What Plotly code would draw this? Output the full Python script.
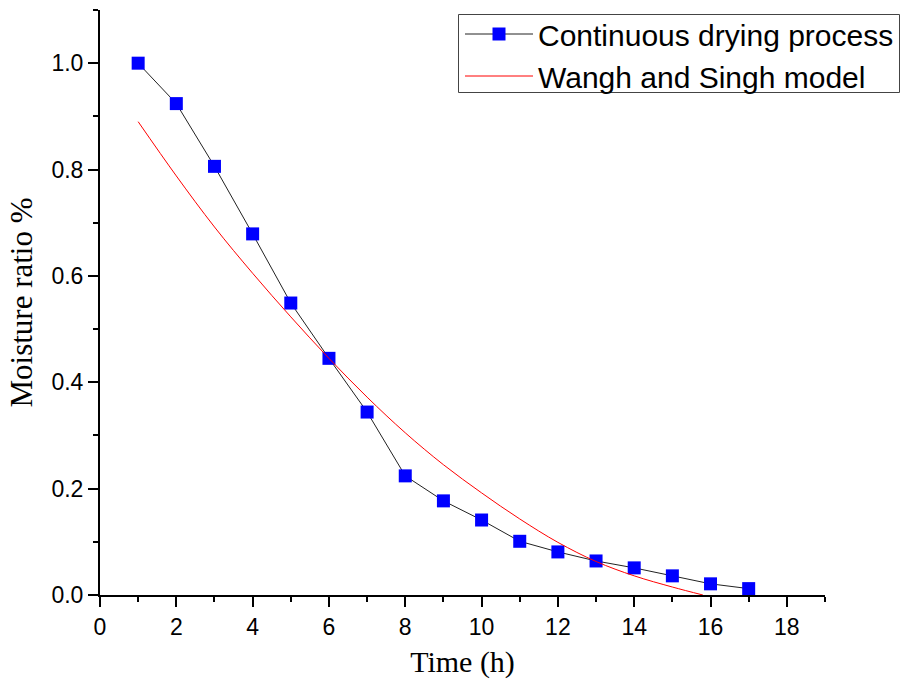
import plotly.graph_objects as go

time_h = [1, 2, 3, 4, 5, 6, 7, 8, 9, 10, 11, 12, 13, 14, 15, 16, 17]
moisture = [1.0, 0.924, 0.806, 0.679, 0.549, 0.445, 0.344, 0.224, 0.177, 0.141,
            0.101, 0.081, 0.064, 0.051, 0.036, 0.021, 0.012]

model_t = [1, 2, 3, 4, 5, 6, 7, 8, 9, 10, 11, 12, 13, 14, 15, 15.8]
model_mr = [0.890, 0.788, 0.692, 0.605, 0.523, 0.445, 0.372, 0.305, 0.245, 0.192,
            0.143, 0.099, 0.063, 0.036, 0.015, 0.0]

x_ticks = [0, 2, 4, 6, 8, 10, 12, 14, 16, 18]
y_ticks = [0.0, 0.2, 0.4, 0.6, 0.8, 1.0]

sans = "Liberation Sans, Arial, sans-serif"
serif = "Liberation Serif, Times New Roman, serif"

W, H = 901, 686

fig = go.Figure()
fig.add_trace(go.Scatter(
    x=time_h, y=moisture, mode="lines+markers", name="Continuous drying process",
    line=dict(color="#222222", width=1),
    marker=dict(symbol="square", size=13, color="#0000ff", line=dict(width=0)),
))
fig.add_trace(go.Scatter(
    x=model_t, y=model_mr, mode="lines", name="Wangh and Singh model",
    line=dict(color="#ff0000", width=1, shape="spline"),
))

axis_common = dict(
    showline=True, linecolor="black", linewidth=2, mirror=False,
    ticks="outside", ticklen=10, tickwidth=2, tickcolor="black",
    showgrid=False, zeroline=False,
    tickfont=dict(family=sans, size=23, color="black"),
)

fig.update_xaxes(
    range=[0, 19], tickvals=x_ticks, ticktext=[str(v) for v in x_ticks],
    minor=dict(dtick=1, ticks="outside", ticklen=5, tickwidth=2, tickcolor="black"),
    title=dict(text="Time (h)", font=dict(family=serif, size=30, color="black"), standoff=12),
    **axis_common,
)
fig.update_yaxes(
    range=[0, 1.1], tickvals=y_ticks, ticktext=[f"{v:.1f}" for v in y_ticks],
    minor=dict(dtick=0.1, ticks="outside", ticklen=5, tickwidth=2, tickcolor="black"),
    title=dict(text="Moisture ratio %", font=dict(family=serif, size=31, color="black"), standoff=10),
    **axis_common,
)

# legend frame drawn in paper coordinates (plot area: 100..825 x, 10..595 y)
plot_l, plot_r, plot_t, plot_b = 100, 825, 10, 595
def px_to_paper_x(px):
    return (px - plot_l) / (plot_r - plot_l)
def px_to_paper_y(py):
    return (plot_b - py) / (plot_b - plot_t)

fig.add_shape(
    type="rect", xref="paper", yref="paper",
    x0=px_to_paper_x(458.5), x1=px_to_paper_x(899.5),
    y0=px_to_paper_y(92.5), y1=px_to_paper_y(14.5),
    line=dict(color="#444444", width=1), fillcolor="white", layer="above",
)

fig.update_layout(
    width=W, height=H,
    margin=dict(l=100, r=76, t=10, b=91, autoexpand=False),
    paper_bgcolor="white", plot_bgcolor="white",
    showlegend=True,
    legend=dict(
        x=460 / W, y=1 - 8 / H, xanchor="left", yanchor="top",
        xref="container", yref="container",
        bgcolor="rgba(0,0,0,0)", borderwidth=0,
        font=dict(family=sans, size=30, color="black"),
        itemwidth=68, tracegroupgap=0,
    ),
)

fig.write_html("out.html")
